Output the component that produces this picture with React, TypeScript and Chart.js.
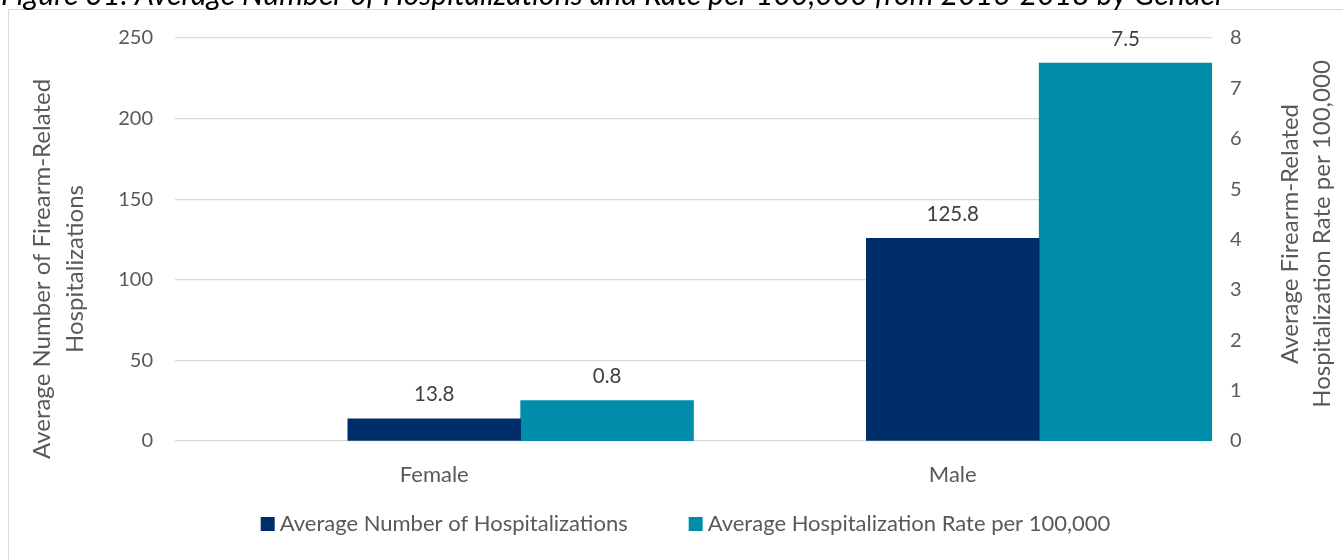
import React, { useEffect, useRef } from "react";
import { Chart, registerables } from "chart.js";

Chart.register(...registerables);

const titleText =
  "Figure 31: Average Number of Hospitalizations and Rate per 100,000 from 2016-2018 by Gender";
const categories = ["Female", "Male"];
const seriesNames = [
  "Average Number of Hospitalizations",
  "Average Hospitalization Rate per 100,000",
];
const avgHospitalizations = [13.8, 125.8];
const hospitalizationRate = [0.8, 7.5];
const leftAxisTitle = ["Average Number of Firearm-Related", "Hospitalizations"];
const rightAxisTitle = ["Average Firearm-Related", "Hospitalization Rate per 100,000"];
const leftMax = 250;
const leftStep = 50;
const rightMax = 8;
const rightStep = 1;

const NAVY = "#002E6B";
const TEAL = "#008DA9";
const FONT = "Lato, 'Open Sans', sans-serif";
const GRAY = "#595959";

const decorPlugin = {
  id: "decor",
  beforeDraw(chart: any) {
    const ctx = chart.ctx;
    ctx.save();
    ctx.fillStyle = "#ffffff";
    ctx.fillRect(0, 0, chart.width, chart.height);
    ctx.strokeStyle = "#d9d9d9";
    ctx.lineWidth = 1;
    ctx.strokeRect(8.5, 9.5, 2000, 2000);
    ctx.font = `italic 24px ${FONT}`;
    const w24 = ctx.measureText(titleText).width;
    const fs = (24 * 1225) / w24;
    ctx.font = `italic ${fs}px ${FONT}`;
    ctx.fillStyle = "#000000";
    ctx.textAlign = "left";
    ctx.textBaseline = "alphabetic";
    ctx.fillText(titleText, 1, 5);
    ctx.restore();
  },
  afterDraw(chart: any) {
    const ctx = chart.ctx;
    ctx.save();
    // data labels
    ctx.font = `20.5px ${FONT}`;
    ctx.fillStyle = "#404040";
    ctx.textAlign = "center";
    ctx.textBaseline = "middle";
    chart.data.datasets.forEach((ds: any, di: number) => {
      if (ds.isPlaceholder) return;
      const meta = chart.getDatasetMeta(di);
      meta.data.forEach((bar: any, i: number) => {
        ctx.fillText(Number(ds.data[i]).toFixed(1), bar.x, bar.y - 24);
      });
    });
    // axis titles
    ctx.fillStyle = GRAY;
    ctx.font = `24px ${FONT}`;
    const drawRot = (text: string, x: number, y: number) => {
      ctx.save();
      ctx.translate(x, y);
      ctx.rotate(-Math.PI / 2);
      ctx.fillText(text, 0, 0);
      ctx.restore();
    };
    drawRot(leftAxisTitle[0], 42, 269);
    drawRot(leftAxisTitle[1], 75, 269);
    drawRot(rightAxisTitle[0], 1290, 234);
    drawRot(rightAxisTitle[1], 1322, 234);
    // legend
    ctx.font = `22px ${FONT}`;
    const box = 14;
    const gap = 5;
    const spacing = 61;
    const colors = [NAVY, TEAL];
    const widths = seriesNames.map((s) => ctx.measureText(s).width);
    const total = widths.reduce((a, w) => a + box + gap + w, 0) + spacing;
    let x = 685.5 - total / 2;
    const ly = 524;
    ctx.textAlign = "left";
    seriesNames.forEach((s, i) => {
      ctx.fillStyle = colors[i];
      ctx.fillRect(x, ly - box / 2, box, box);
      x += box + gap;
      ctx.fillStyle = GRAY;
      ctx.fillText(s, x, ly);
      x += widths[i] + spacing;
    });
    ctx.restore();
  },
};

export default function App() {
  const ref = useRef<HTMLCanvasElement>(null);
  useEffect(() => {
    if (!ref.current) return;
    const tickFont = { family: FONT, size: 20 };
    const chart = new Chart(ref.current, {
      type: "bar",
      data: {
        labels: categories,
        datasets: [
          {
            // empty slot: Excel places the primary bar at the category centre
            label: "",
            isPlaceholder: true,
            data: categories.map(() => null),
            backgroundColor: "rgba(0,0,0,0)",
            yAxisID: "y",
            categoryPercentage: 1,
            barPercentage: 1,
          },
          {
            label: seriesNames[0],
            data: avgHospitalizations,
            backgroundColor: NAVY,
            yAxisID: "y",
            categoryPercentage: 1,
            barPercentage: 1,
          },
          {
            label: seriesNames[1],
            data: hospitalizationRate,
            backgroundColor: TEAL,
            yAxisID: "y1",
            categoryPercentage: 1,
            barPercentage: 1,
          },
        ],
      },
      options: {
        responsive: false,
        animation: false,
        devicePixelRatio: 1,
        layout: { padding: { top: 38, left: 0, right: 0, bottom: 0 } },
        plugins: {
          legend: { display: false },
          title: { display: false },
          tooltip: { enabled: false },
        },
        scales: {
          x: {
            grid: { display: false },
            border: { display: false },
            ticks: { font: { family: FONT, size: 22 }, color: GRAY, padding: 13 },
            afterFit: (s: any) => {
              s.height = 119;
            },
          },
          y: {
            position: "left",
            min: 0,
            max: leftMax,
            ticks: { stepSize: leftStep, font: tickFont, color: GRAY, padding: 22 },
            grid: { color: "#d9d9d9", drawTicks: false, lineWidth: 1.3 },
            border: { display: false },
            afterFit: (s: any) => {
              s.width = 175;
            },
          },
          y1: {
            position: "right",
            min: 0,
            max: rightMax,
            ticks: { stepSize: rightStep, font: tickFont, color: GRAY, padding: 18 },
            grid: { display: false, drawTicks: false },
            border: { display: false },
            afterFit: (s: any) => {
              s.width = 131;
            },
          },
        },
      },
      plugins: [decorPlugin],
    } as any);
    return () => chart.destroy();
  }, []);
  return (
    <div
      style={{
        position: "fixed",
        left: 0,
        top: 0,
        width: 1343,
        height: 560,
        background: "#fff",
      }}
    >
      <canvas ref={ref} width={1343} height={560} style={{ display: "block" }} />
    </div>
  );
}
